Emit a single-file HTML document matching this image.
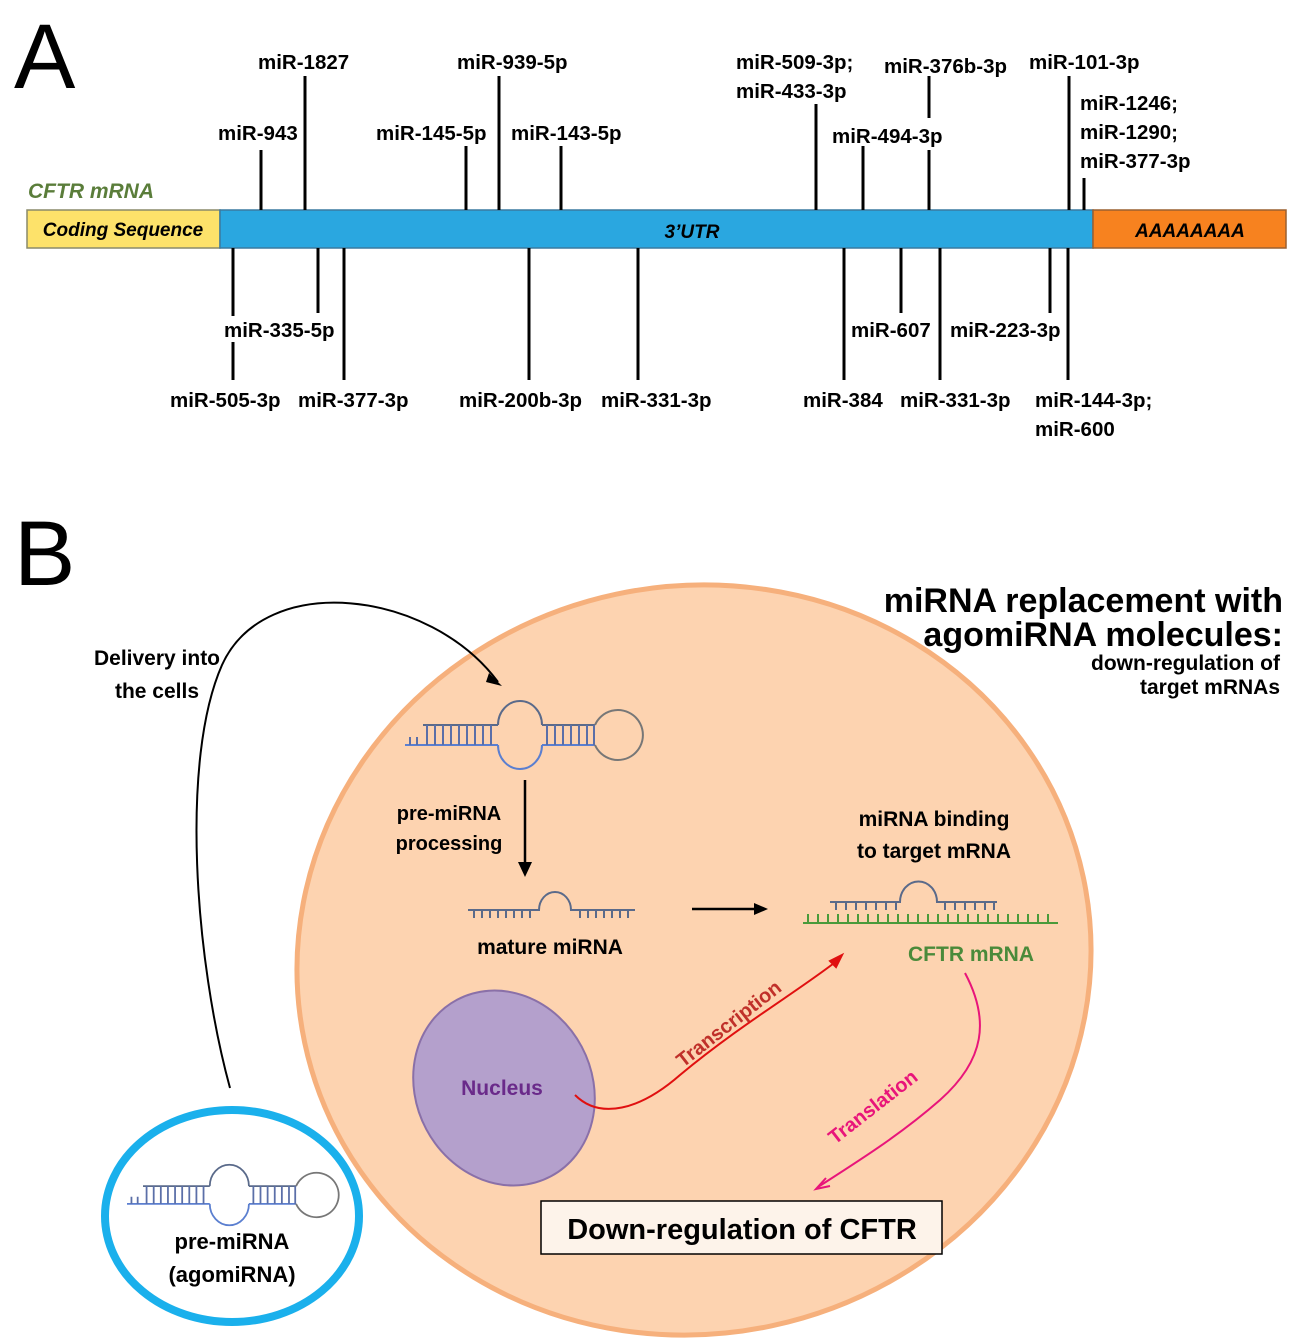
<!DOCTYPE html>
<html><head><meta charset="utf-8"><style>
body{margin:0;background:#fff}
svg{display:block}
text{font-family:"Liberation Sans",sans-serif;font-weight:bold}
</style></head><body>
<svg width="1297" height="1344" viewBox="0 0 1297 1344" xmlns="http://www.w3.org/2000/svg">
<defs>
<g id="hp" fill="none" stroke-width="2">
<path d="M0 10 H93 M137 10 H190" stroke="#5b7fd0"/>
<path d="M18 -10 H93 M137 -10 H190" stroke="#5a6a8a"/>
<path d="M93 10 A22 24 0 0 0 137 10" stroke="#5b7fd0"/>
<path d="M93 -10 A22 24 0 0 1 137 -10" stroke="#5a6a8a"/>
<path d="M190 -10 A25 25 0 1 1 190 10" stroke="#777"/>
<path d="M5 10V2 M12 10V2 M22 10V-10 M30 10V-10 M38 10V-10 M46 10V-10 M54 10V-10 M62 10V-10 M70 10V-10 M78 10V-10 M86 10V-10 M142 10V-10 M150 10V-10 M158 10V-10 M166 10V-10 M174 10V-10 M182 10V-10 M189 10V-10" stroke="#5b6fa8"/>
</g>
</defs>
<text x="14" y="88" font-size="92" style="font-weight:normal">A</text>
<text x="14" y="585" font-size="92" style="font-weight:normal">B</text>

<rect x="27" y="210" width="193" height="38" fill="#fde26a" stroke="#8a8a6a" stroke-width="1.5"/>
<rect x="220" y="210" width="873" height="38" fill="#2aa7e0" stroke="#3a7aa0" stroke-width="1.5"/>
<rect x="1093" y="210" width="193" height="38" fill="#f7821f" stroke="#9a6030" stroke-width="1.5"/>
<text x="123" y="236" font-size="19" text-anchor="middle" font-style="italic">Coding Sequence</text>
<text x="692" y="238" font-size="19" text-anchor="middle" font-style="italic">3’UTR</text>
<text x="1190" y="237" font-size="19" text-anchor="middle" font-style="italic">AAAAAAAA</text>
<text x="28" y="198" font-size="21" fill="#5a7d3a" font-style="italic">CFTR mRNA</text>

<g stroke="#000" stroke-width="3">
<path d="M261 150V210 M305 76V210 M466 146V210 M499 76V210 M561 146V210 M816 104V210 M863 146V210 M929 76V118 M929 150V210 M1069 76V210 M1084 178V210"/>
<path d="M233 248V316 M233 342V380 M318 248V313 M344 248V380 M529 248V380 M638 248V380 M844 248V380 M901 248V313 M940 248V380 M1050 248V313 M1068 248V380"/>
</g>
<g font-size="20.5">
<text x="258" y="69">miR-1827</text>
<text x="457" y="69">miR-939-5p</text>
<text x="736" y="69">miR-509-3p;</text>
<text x="736" y="98">miR-433-3p</text>
<text x="884" y="73">miR-376b-3p</text>
<text x="1029" y="69">miR-101-3p</text>
<text x="1080" y="110">miR-1246;</text>
<text x="1080" y="139">miR-1290;</text>
<text x="1080" y="168">miR-377-3p</text>
<text x="218" y="140">miR-943</text>
<text x="376" y="140">miR-145-5p</text>
<text x="511" y="140">miR-143-5p</text>
<text x="832" y="143">miR-494-3p</text>
<text x="224" y="337">miR-335-5p</text>
<text x="851" y="337">miR-607</text>
<text x="950" y="337">miR-223-3p</text>
<text x="170" y="407">miR-505-3p</text>
<text x="298" y="407">miR-377-3p</text>
<text x="459" y="407">miR-200b-3p</text>
<text x="601" y="407">miR-331-3p</text>
<text x="803" y="407">miR-384</text>
<text x="900" y="407">miR-331-3p</text>
<text x="1035" y="407">miR-144-3p;</text>
<text x="1035" y="436">miR-600</text>
</g>

<ellipse cx="694" cy="960" rx="398" ry="374" transform="rotate(-12 694 960)" fill="#fdd3b0" stroke="#f6b07c" stroke-width="5"/>

<text x="1283" y="612" font-size="34" text-anchor="end">miRNA replacement with</text>
<text x="1283" y="646" font-size="34" text-anchor="end">agomiRNA molecules:</text>
<text x="1280" y="670" font-size="21" text-anchor="end">down-regulation of</text>
<text x="1280" y="694" font-size="21" text-anchor="end">target mRNAs</text>

<text x="157" y="665" font-size="21" text-anchor="middle">Delivery into</text>
<text x="157" y="698" font-size="21" text-anchor="middle">the cells</text>
<path d="M230 1088 C195 960 180 760 222 665 C265 570 430 590 498 682" fill="none" stroke="#000" stroke-width="2"/>
<path d="M489 673 L502 686 L486 682Z" fill="#000"/>

<use href="#hp" x="405" y="735"/>
<path d="M525 780V868" stroke="#000" stroke-width="2.5"/>
<path d="M518 862L525 877L532 862Z" fill="#000"/>
<text x="449" y="820" font-size="20" text-anchor="middle">pre-miRNA</text>
<text x="449" y="850" font-size="20" text-anchor="middle">processing</text>

<g fill="none" stroke="#5a6a8a" stroke-width="2">
<path d="M468 910H539 A16 18 0 0 1 571 910 H635"/>
<path d="M474 910v8 M482 910v8 M490 910v8 M498 910v8 M506 910v8 M514 910v8 M522 910v8 M530 910v8 M580 910v8 M588 910v8 M596 910v8 M604 910v8 M612 910v8 M620 910v8 M628 910v8"/>
</g>
<text x="550" y="954" font-size="21" text-anchor="middle">mature miRNA</text>
<path d="M692 909H758" stroke="#000" stroke-width="2.5"/>
<path d="M754 903L768 909L754 915Z" fill="#000"/>

<text x="934" y="826" font-size="21" text-anchor="middle">miRNA binding</text>
<text x="934" y="858" font-size="21" text-anchor="middle">to target mRNA</text>
<g fill="none" stroke-width="2">
<path d="M830 902H900 A18 20 0 0 1 937 902 H997" stroke="#5a6a8a"/>
<path d="M836 902v8 M846 902v8 M856 902v8 M866 902v8 M876 902v8 M886 902v8 M896 902v8 M945 902v8 M955 902v8 M965 902v8 M975 902v8 M985 902v8 M994 902v8" stroke="#5a6a8a"/>
<path d="M803 923H1058" stroke="#4a9a3a"/>
<path d="M808 923v-9 M818 923v-9 M828 923v-9 M838 923v-9 M848 923v-9 M858 923v-9 M868 923v-9 M878 923v-9 M888 923v-9 M898 923v-9 M908 923v-9 M918 923v-9 M928 923v-9 M938 923v-9 M948 923v-9 M958 923v-9 M968 923v-9 M978 923v-9 M988 923v-9 M998 923v-9 M1008 923v-9 M1018 923v-9 M1028 923v-9 M1038 923v-9 M1048 923v-9" stroke="#4a9a3a"/>
</g>
<text x="971" y="961" font-size="21" text-anchor="middle" fill="#4a8a3a">CFTR mRNA</text>

<ellipse cx="504" cy="1088" rx="88" ry="100" transform="rotate(-28 504 1088)" fill="#b4a0cc" stroke="#8a70a8" stroke-width="2"/>
<text x="502" y="1095" font-size="21" text-anchor="middle" fill="#6a2a8a">Nucleus</text>

<path d="M575 1095 C600 1120 640 1110 680 1075 C740 1025 800 990 838 960" fill="none" stroke="#e01010" stroke-width="2"/>
<path d="M830 961L842 955L836 967Z" fill="#e01010" stroke="#e01010" stroke-width="2"/>
<text transform="translate(683 1068) rotate(-38)" font-size="20" fill="#c0302a">Transcription</text>

<path d="M965 973 C990 1020 985 1060 940 1100 C900 1135 860 1160 818 1187" fill="none" stroke="#e8157a" stroke-width="2"/>
<path d="M826 1178L816 1189L830 1186" fill="none" stroke="#e8157a" stroke-width="2"/>
<text transform="translate(835 1145) rotate(-38)" font-size="20" fill="#e8157a">Translation</text>

<rect x="541" y="1201" width="401" height="53" fill="#fdf3ea" stroke="#000" stroke-width="1.5"/>
<text x="742" y="1239" font-size="29" text-anchor="middle">Down-regulation of CFTR</text>

<ellipse cx="232" cy="1216" rx="127" ry="106" fill="#fff" stroke="#1ab0ec" stroke-width="8"/>
<g transform="translate(127 1195) scale(0.89)"><use href="#hp"/></g>
<text x="232" y="1249" font-size="22" text-anchor="middle">pre-miRNA</text>
<text x="232" y="1282" font-size="22" text-anchor="middle">(agomiRNA)</text>
</svg>
</body></html>
